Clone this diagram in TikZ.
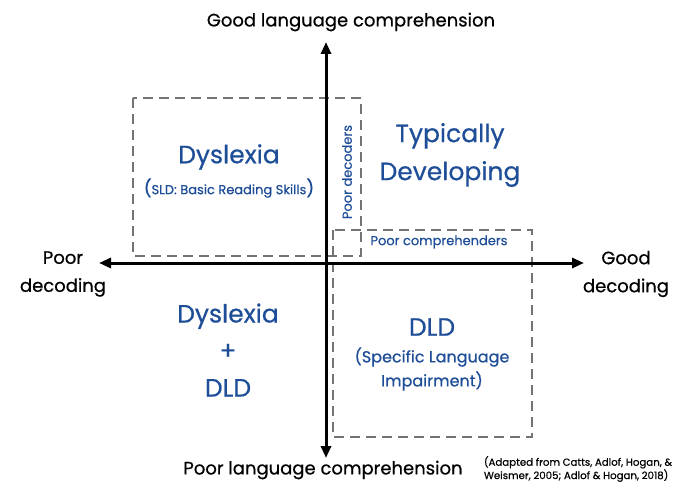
\documentclass[tikz,border=0pt]{standalone}
\usepackage{fontspec}
\setmainfont{Poppins}
\newfontfamily\heavy{Poppins}[FakeBold=0.6]
\usetikzlibrary{arrows.meta}
\definecolor{ldblue}{RGB}{31,78,152}
\definecolor{boxgray}{RGB}{115,115,115}

\begin{document}
\begin{tikzpicture}[x=1pt,y=-1pt,
  axis/.style={line width=3pt,{Triangle[length=12pt,width=10pt]}-{Triangle[length=12pt,width=10pt]}},
  region/.style={draw=boxgray,line width=2.8pt,dash pattern=on 10pt off 6pt},
  big/.style={text=ldblue,align=center,font=\heavy\fontsize{25}{38}\selectfont},
  small/.style={text=ldblue,font=\heavy\fontsize{13}{16}\selectfont},
  pole/.style={align=center,font=\heavy\fontsize{18}{28}\selectfont}]
\useasboundingbox (0,0) rectangle (680,492);

% dashed regions
\draw[region] (133,98) rectangle (361,256);
\draw[region] (333,230) rectangle (532,437);

% axes
\coordinate (up) at (326,42);
\coordinate (down) at (326,458);
\coordinate (west) at (99,263);
\coordinate (east) at (584,263);
\draw[axis] (down) -- (up);
\draw[axis] (west) -- (east);

% axis labels
\node[pole] (goodlc) at (351,22) {Good language comprehension};
\node[pole] (poorlc) at (323,470) {Poor language comprehension};
\node[pole] (poordec) at (63,274) {Poor\\decoding};
\node[pole] (gooddec) at (626,274) {Good\\decoding};

% quadrants
\node[big] (dys) at (229,157) {Dyslexia};
\node[small] (sld) at (229,188) {{\fontsize{17}{17}\selectfont(}SLD: Basic Reading Skills{\fontsize{17}{17}\selectfont)}};
\node[big] (td) at (450,155) {Typically\\Developing};
\node[small,rotate=90] (pdec) at (347,172) {Poor decoders};
\node[small] (pcomp) at (439,242) {Poor comprehenders};
\node[big,font=\heavy\fontsize{25}{37}\selectfont] (both) at (228,350) {Dyslexia\\+\\DLD};
\node[big] (dld) at (432,327) {DLD};
\node[big,font=\heavy\fontsize{16}{24}\selectfont] (sli) at (432,369) {(Specific Language\\Impairment)};

% source
\node[align=left,font=\heavy\fontsize{10.2}{12}\selectfont] (src) at (578,469) {(Adapted from Catts, Adlof, Hogan, \&\\Weismer, 2005; Adlof \& Hogan, 2018)};
\end{tikzpicture}
\end{document}
